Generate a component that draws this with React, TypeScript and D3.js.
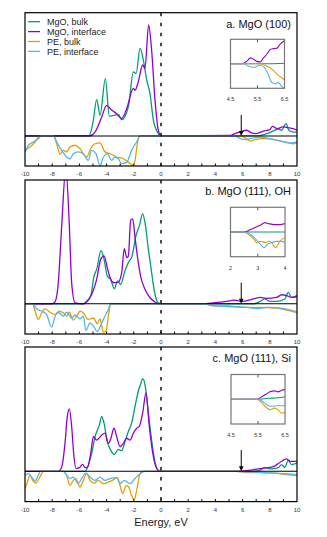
import * as d3 from 'd3'

type Pt = [number, number]

// energy ticks along the main x axis
const TICK_LABELS = [-10, -8, -6, -4, -2, 0, 2, 4, 6, 8, 10]
const MINOR_TICKS = d3.range(-9, 10)

const SERIES_NAMES = ['MgO, bulk', 'MgO, interface', 'PE, bulk', 'PE, interface']
const SERIES_COLORS = ['#009E73', '#9400D3', '#E69F00', '#56B4E9']

const PANEL_LABELS = ['a. MgO (100)', 'b. MgO (111), OH', 'c. MgO (111), Si']
const INSET_DOMAINS: Pt[] = [[4.5, 6.5], [2, 4], [4.5, 6.5]]
const INSET_TICKS = [[4.5, 5.5, 6.5], [2, 3, 4], [4.5, 5.5, 6.5]]
const ARROW_E = [5.9, 5.9, 5.9]

// panel a
const A_MGO_BULK: Pt[] = [[-10, 0], [-5.3, 0], [-5.0, 0.45], [-4.73, 1.21], [-4.48, 0.69], [-4.09, 1.91], [-3.8, 0.66], [-3.38, 0.69], [-3.14, 0.72], [-2.89, 0.54], [-2.4, 0.97], [-2.03, 2.13], [-1.83, 2.08], [-1.54, 2.91], [-1.3, 2.52], [-1.05, 1.86], [-0.81, 1.41], [-0.56, 0.52], [-0.27, 0.13], [-0.05, 0], [7.0, 0], [7.8, 0.08], [8.37, 0.19], [8.6, 0.24], [8.85, 0.19], [9.2, 0.41], [9.4, 0.19], [9.75, 0.13], [10, 0.13]]
const A_MGO_INT: Pt[] = [[-10, 0], [-5.27, 0], [-4.85, 0.13], [-4.36, 0.63], [-4.0, 1.02], [-3.63, 0.86], [-3.26, 0.74], [-2.89, 0.58], [-2.52, 0.91], [-2.03, 1.58], [-1.91, 1.52], [-1.67, 1.8], [-1.35, 2.36], [-1.18, 2.24], [-0.91, 3.69], [-0.69, 2.86], [-0.44, 1.19], [-0.2, 0.19], [0, 0], [5.1, 0.02], [5.44, 0.08], [5.8, 0.13], [6.3, 0.19], [6.66, 0.1], [7.0, 0.08], [7.53, 0.16], [8.0, 0.21], [8.2, 0.32], [8.56, 0.24], [8.95, 0.3], [9.3, 0.28], [9.7, 0.24], [10, 0.19]]
const A_PE_BULK: Pt[] = [[-10, -0.48], [-9.63, -0.37], [-9.26, -0.2], [-8.9, 0], [-7.9, 0], [-7.67, -0.26], [-7.43, -0.61], [-7.18, -0.48], [-6.94, -0.53], [-6.69, -0.37], [-6.32, -0.31], [-5.96, -0.42], [-5.47, -0.7], [-5.17, -0.42], [-4.85, -0.26], [-4.48, -0.23], [-4.12, -0.53], [-3.75, -0.59], [-3.26, -0.7], [-2.77, -0.76], [-2.4, -0.87], [-2.03, -0.98], [-1.91, -0.81], [-1.74, -0.26], [-1.54, 0], [5.8, 0], [6.05, -0.03], [6.6, -0.17], [6.95, -0.12], [7.5, -0.09], [8.0, -0.1], [8.5, -0.14], [9.1, -0.2], [9.7, -0.26], [10, -0.24]]
const A_PE_INT: Pt[] = [[-10, -0.53], [-9.75, -0.31], [-9.39, -0.2], [-9.02, -0.09], [-8.78, 0], [-7.9, 0], [-7.67, -0.2], [-7.3, -0.48], [-6.94, -0.7], [-6.69, -0.76], [-6.45, -0.59], [-6.08, -0.53], [-5.71, -0.59], [-5.35, -0.81], [-5.1, -0.48], [-4.78, -0.59], [-4.48, -0.98], [-4.24, -0.7], [-3.95, -0.59], [-3.63, -0.81], [-3.38, -0.7], [-3.14, -0.76], [-2.89, -0.92], [-2.52, -0.87], [-2.16, -0.48], [-1.79, -0.2], [-1.54, 0], [5.4, 0], [5.8, -0.08], [6.17, -0.12], [6.55, -0.09], [7.3, -0.04], [7.8, -0.07], [8.37, -0.12], [9.0, -0.2], [9.5, -0.23], [10, -0.2]]

// panel b
const B_MGO_BULK: Pt[] = [[-10, 0], [-5.71, 0], [-5.47, 0.09], [-5.17, 0.26], [-4.92, 0.92], [-4.73, 1.14], [-4.41, 1.76], [-4.19, 1.48], [-3.95, 0.92], [-3.7, 0.81], [-3.43, 0.5], [-3.19, 0.76], [-2.97, 0.64], [-2.65, 1.09], [-2.33, 1.42], [-2.16, 1.53], [-1.84, 2.26], [-1.59, 2.59], [-1.35, 2.98], [-1.18, 2.7], [-0.93, 1.81], [-0.69, 1.03], [-0.44, 0.31], [-0.2, 0.03], [0, 0], [6.8, 0], [7.3, 0.08], [7.65, 0.16], [8.0, 0.08], [8.5, 0.08], [9.1, 0.16], [9.36, 0.38], [9.6, 0.21], [10, 0.23]]
const B_MGO_INT: Pt[] = [[-10, 0], [-8.04, 0], [-7.8, 0.06], [-7.55, 0.7], [-7.3, 2.59], [-7.0, 4.5], [-6.74, 2.59], [-6.57, 0.7], [-6.32, 0.03], [-5.71, 0], [-5.47, 0.06], [-5.1, 0.31], [-4.73, 0.81], [-4.43, 1.48], [-4.19, 1.59], [-3.95, 1.2], [-3.7, 0.81], [-3.46, 0.7], [-3.14, 0.72], [-2.89, 1.03], [-2.7, 1.83], [-2.52, 1.53], [-2.4, 1.58], [-2.23, 2.76], [-2.08, 2.81], [-1.91, 2.2], [-1.74, 1.59], [-1.5, 0.92], [-1.18, 0.48], [-0.81, 0.2], [-0.44, 0.06], [-0.2, 0], [3.1, 0], [3.85, 0.03], [4.83, 0.08], [5.4, 0.12], [6.05, 0.08], [6.8, 0.16], [7.3, 0.21], [7.77, 0.18], [8.5, 0.21], [8.87, 0.3], [9.24, 0.27], [9.6, 0.21], [10, 0.27]]
const B_PE_BULK: Pt[] = [[-10, 0], [-9.44, 0], [-9.26, -0.24], [-9.02, -0.52], [-8.77, -0.3], [-8.53, -0.17], [-8.16, -0.28], [-7.79, -0.36], [-7.48, -0.24], [-7.18, -0.3], [-6.94, -0.41], [-6.74, -0.28], [-6.45, -0.54], [-6.2, -0.41], [-5.96, -0.24], [-5.71, -0.3], [-5.35, -0.52], [-4.97, -0.47], [-4.68, -0.66], [-4.48, -0.5], [-4.24, -0.94], [-4.04, -0.91], [-3.87, -0.41], [-3.7, 0], [3.1, 0], [4.1, -0.07], [5.0, -0.07], [6.05, -0.12], [7.3, -0.12], [8.5, -0.14], [9.24, -0.21], [10, -0.29]]
const B_PE_INT: Pt[] = [[-10, 0], [-9.44, 0], [-9.14, -0.17], [-8.77, -0.24], [-8.41, -0.36], [-8.04, -0.77], [-7.79, -0.41], [-7.55, -0.28], [-7.18, -0.41], [-6.94, -0.28], [-6.57, -0.47], [-6.32, -0.37], [-5.96, -0.5], [-5.71, -0.41], [-5.52, -0.88], [-5.22, -0.63], [-4.97, -0.74], [-4.68, -0.92], [-4.36, -0.63], [-4.12, -0.41], [-3.87, -0.19], [-3.7, 0], [3.1, 0], [3.85, -0.07], [4.83, -0.09], [6.3, -0.12], [7.03, -0.16], [7.8, -0.12], [8.8, -0.14], [10, -0.26]]

// panel c
const C_MGO_BULK: Pt[] = [[-10, 0], [-5.59, 0], [-5.34, 0.2], [-5.1, 0.59], [-4.85, 1.14], [-4.53, 1.53], [-4.36, 1.81], [-4.19, 1.59], [-3.95, 0.98], [-3.7, 0.7], [-3.43, 0.56], [-3.14, 0.72], [-2.89, 0.68], [-2.65, 0.98], [-2.4, 1.31], [-2.16, 1.59], [-1.91, 2.14], [-1.67, 2.64], [-1.5, 2.87], [-1.35, 3.06], [-1.18, 2.87], [-0.93, 1.92], [-0.69, 1.03], [-0.44, 0.31], [-0.2, 0.03], [0, 0], [6.8, 0], [7.3, 0.04], [7.65, 0.13], [8.0, 0.08], [8.6, 0.11], [8.87, 0.22], [9.1, 0.13], [9.36, 0.36], [9.6, 0.22], [10, 0.27]]
const C_MGO_INT: Pt[] = [[-10, 0], [-7.55, 0], [-7.3, 0.14], [-7.06, 0.92], [-6.89, 1.81], [-6.74, 2.06], [-6.57, 1.48], [-6.4, 0.48], [-6.25, 0.09], [-6.0, 0.12], [-5.76, 0.23], [-5.59, 0.12], [-5.4, 0.14], [-5.17, 0.59], [-4.97, 1.14], [-4.73, 1.03], [-4.36, 1.2], [-4.12, 1.26], [-3.87, 0.92], [-3.68, 1.09], [-3.46, 1.42], [-3.26, 1.14], [-3.01, 0.81], [-2.77, 0.92], [-2.52, 1.09], [-2.28, 1.03], [-2.03, 1.26], [-1.79, 1.42], [-1.6, 1.48], [-1.35, 1.92], [-1.1, 2.59], [-0.86, 1.48], [-0.56, 0.48], [-0.32, 0.09], [-0.1, 0], [5.5, 0], [6.3, 0.02], [7.03, 0.07], [7.77, 0.11], [8.3, 0.16], [8.87, 0.33], [9.2, 0.41], [9.5, 0.33], [10, 0.33]]
const C_PE_BULK: Pt[] = [[-10, -0.58], [-9.83, -0.36], [-9.63, -0.13], [-9.44, -0.3], [-9.19, -0.39], [-9.02, -0.28], [-8.77, -0.08], [-8.65, 0], [-7.18, 0], [-6.94, -0.13], [-6.69, -0.47], [-6.45, -0.3], [-6.25, -0.24], [-5.96, -0.52], [-5.71, -0.3], [-5.47, -0.08], [-5.22, -0.3], [-4.92, -0.39], [-4.61, -0.3], [-4.24, -0.41], [-3.87, -0.36], [-3.5, -0.28], [-3.21, -0.21], [-3.01, -0.47], [-2.82, -0.74], [-2.57, -0.47], [-2.4, -0.5], [-2.16, -0.8], [-1.96, -0.94], [-1.79, -0.63], [-1.54, -0.08], [-1.3, 0], [5.5, 0], [6.3, -0.04], [7.3, -0.04], [8.5, -0.07], [9.24, -0.11], [10, -0.14]]
const C_PE_INT: Pt[] = [[-10, -0.13], [-9.75, -0.08], [-9.51, -0.19], [-9.26, -0.32], [-9.02, -0.13], [-8.85, 0], [-7.18, 0], [-6.94, -0.13], [-6.69, -0.24], [-6.45, -0.19], [-6.08, -0.41], [-5.84, -0.24], [-5.52, -0.06], [-5.22, -0.19], [-4.85, -0.3], [-4.48, -0.19], [-4.12, -0.3], [-3.75, -0.24], [-3.26, -0.21], [-3.01, -0.41], [-2.7, -0.3], [-2.28, -0.41], [-1.91, -0.24], [-1.54, -0.08], [-1.2, 0], [5.5, 0], [6.3, -0.02], [7.5, -0.04], [8.7, -0.07], [9.4, -0.09], [10, -0.11]]

// insets (zoom near the conduction band edge)
const IA_MGO_BULK: Pt[] = [[4.5, 0], [5.9, 0], [6.5, 0.01]]
const IA_MGO_INT: Pt[] = [[4.5, 0], [4.93, 0], [5.1, 0.05], [5.24, 0.12], [5.36, 0.09], [5.48, 0.05], [5.6, 0.04], [5.72, 0.12], [5.85, 0.2], [5.97, 0.29], [6.1, 0.31], [6.22, 0.32], [6.34, 0.4], [6.5, 0.47]]
const IA_PE_BULK: Pt[] = [[4.5, 0], [5.6, 0], [5.85, -0.05], [6.03, -0.11], [6.22, -0.21], [6.38, -0.28], [6.5, -0.33]]
const IA_PE_INT: Pt[] = [[4.5, 0], [4.99, 0], [5.17, -0.05], [5.36, -0.07], [5.48, -0.05], [5.6, -0.03], [5.76, -0.08], [5.89, -0.21], [6.03, -0.38], [6.16, -0.41], [6.26, -0.38], [6.38, -0.45], [6.5, -0.51]]

const IB_MGO_BULK: Pt[] = [[2, 0], [4, 0]]
const IB_MGO_INT: Pt[] = [[2, 0], [2.49, 0], [2.74, 0.05], [2.98, 0.11], [3.1, 0.14], [3.26, 0.19], [3.4, 0.17], [3.6, 0.15], [3.8, 0.15], [4, 0.17]]
const IB_PE_BULK: Pt[] = [[2, 0], [2.49, 0], [2.67, -0.05], [2.86, -0.15], [2.98, -0.22], [3.1, -0.19], [3.29, -0.21], [3.4, -0.19], [3.52, -0.22], [3.66, -0.32], [3.78, -0.22], [3.9, -0.14], [4, -0.12]]
const IB_PE_INT: Pt[] = [[2, 0], [2.49, 0], [2.74, -0.05], [2.92, -0.14], [3.1, -0.25], [3.23, -0.32], [3.35, -0.25], [3.53, -0.21], [3.72, -0.19], [3.9, -0.19], [4, -0.22]]

const IC_MGO_BULK: Pt[] = [[4.5, 0], [5.45, 0], [5.9, 0.02], [6.27, 0.03], [6.5, 0.05]]
const IC_MGO_INT: Pt[] = [[4.5, 0], [5.45, 0], [5.64, 0.05], [5.82, 0.11], [5.94, 0.15], [6.1, 0.17], [6.24, 0.15], [6.38, 0.18], [6.5, 0.2]]
const IC_PE_BULK: Pt[] = [[4.5, 0], [5.45, 0], [5.64, -0.07], [5.82, -0.17], [5.94, -0.21], [6.1, -0.18], [6.24, -0.21], [6.38, -0.28], [6.5, -0.27]]
const IC_PE_INT: Pt[] = [[4.5, 0], [5.45, 0], [5.64, -0.03], [5.82, -0.11], [6.0, -0.14], [6.24, -0.13], [6.5, -0.13]]

const MAIN_SERIES = [
  [A_MGO_BULK, A_MGO_INT, A_PE_BULK, A_PE_INT],
  [B_MGO_BULK, B_MGO_INT, B_PE_BULK, B_PE_INT],
  [C_MGO_BULK, C_MGO_INT, C_PE_BULK, C_PE_INT],
]
const INSET_SERIES = [
  [IA_MGO_BULK, IA_MGO_INT, IA_PE_BULK, IA_PE_INT],
  [IB_MGO_BULK, IB_MGO_INT, IB_PE_BULK, IB_PE_INT],
  [IC_MGO_BULK, IC_MGO_INT, IC_PE_BULK, IC_PE_INT],
]

const W = 327
const H = 537
const FONT = '"Liberation Sans", Arial, Helvetica, sans-serif'
const PLOT_LEFT = 25
const PLOT_RIGHT = 297
const PANEL_BOXES = [
  { top: 12.7, bottom: 166, labelY: 176 },
  { top: 180, bottom: 334, labelY: 344 },
  { top: 347, bottom: 501.6, labelY: 512 },
]
const INSET_BOXES = [
  { left: 230.5, right: 284.5, top: 39.3, bottom: 88.3 },
  { left: 230.5, right: 285, top: 207.3, bottom: 256.7 },
  { left: 231, right: 285, top: 374.5, bottom: 424 },
]
const Y_DOMAIN: Pt = [-1, 4.1]
const INSET_Y: Pt = [-0.5, 0.5]
const ARROW_TAIL = 0.7

const x = d3.scaleLinear().domain([-10, 10]).range([PLOT_LEFT, PLOT_RIGHT])

function Panel({ idx }: { idx: number }) {
  const box = PANEL_BOXES[idx]
  const ib = INSET_BOXES[idx]
  const y = d3.scaleLinear().domain(Y_DOMAIN).range([box.bottom, box.top])
  const line = d3.line<Pt>().x(d => x(d[0])).y(d => y(d[1])).curve(d3.curveMonotoneX)

  const ix = d3.scaleLinear().domain(INSET_DOMAINS[idx]).range([ib.left, ib.right])
  const iy = d3.scaleLinear().domain(INSET_Y).range([ib.bottom, ib.top])
  const iline = d3.line<Pt>().x(d => ix(d[0])).y(d => iy(d[1])).curve(d3.curveMonotoneX)
  const midTick = INSET_TICKS[idx][1]

  const ax = x(ARROW_E[idx])
  const ay0 = y(0)
  const ay1 = y(ARROW_TAIL)

  return (
    <g>
      <defs>
        <clipPath id={`clip-${idx}`}>
          <rect x={PLOT_LEFT} y={box.top} width={PLOT_RIGHT - PLOT_LEFT} height={box.bottom - box.top} />
        </clipPath>
        <clipPath id={`iclip-${idx}`}>
          <rect x={ib.left} y={ib.top} width={ib.right - ib.left} height={ib.bottom - ib.top} />
        </clipPath>
      </defs>

      <g clipPath={`url(#clip-${idx})`}>
        {MAIN_SERIES[idx].map((s, i) => (
          <path key={i} d={line(s) || ''} fill="none" stroke={SERIES_COLORS[i]} strokeWidth={1.3} />
        ))}
      </g>

      {/* zero line and Fermi level */}
      <line x1={PLOT_LEFT} x2={PLOT_RIGHT} y1={y(0)} y2={y(0)} stroke="#000" strokeWidth={1.1} />
      <line x1={x(0)} x2={x(0)} y1={box.top} y2={box.bottom} stroke="#000" strokeWidth={1.4} strokeDasharray="3.5,6.5" />

      {/* frame + ticks */}
      <rect x={PLOT_LEFT} y={box.top} width={PLOT_RIGHT - PLOT_LEFT} height={box.bottom - box.top}
        fill="none" stroke="#000" strokeWidth={1.2} />
      {MINOR_TICKS.map(t => (
        <line key={t} x1={x(t)} x2={x(t)} y1={box.bottom} y2={box.bottom - 2.5} stroke="#000" strokeWidth={1} />
      ))}
      {TICK_LABELS.map(t => (
        <text key={t} x={x(t)} y={box.labelY} fontSize={6} fill="#333" textAnchor="middle" fontFamily={FONT}>{t}</text>
      ))}

      <text x={291} y={box.top + 15} fontSize={11} textAnchor="end" fontFamily={FONT} fill="#111">{PANEL_LABELS[idx]}</text>

      {/* arrow at CBM */}
      <line x1={ax} x2={ax} y1={ay1} y2={ay0 - 4} stroke="#000" strokeWidth={1} />
      <path d={`M${ax - 2.3},${ay0 - 5}L${ax + 2.3},${ay0 - 5}L${ax},${ay0}Z`} fill="#000" />

      {/* inset */}
      <rect x={ib.left} y={ib.top} width={ib.right - ib.left} height={ib.bottom - ib.top} fill="#fff" />
      <g clipPath={`url(#iclip-${idx})`}>
        {INSET_SERIES[idx].map((s, i) => (
          <path key={i} d={iline(s) || ''} fill="none" stroke={SERIES_COLORS[i]} strokeWidth={1.1} />
        ))}
      </g>
      <rect x={ib.left} y={ib.top} width={ib.right - ib.left} height={ib.bottom - ib.top}
        fill="none" stroke="#777" strokeWidth={1.2} />
      <line x1={ix(midTick)} x2={ix(midTick)} y1={ib.top} y2={ib.top + 3} stroke="#555" strokeWidth={1} />
      <line x1={ix(midTick)} x2={ix(midTick)} y1={ib.bottom} y2={ib.bottom - 3} stroke="#555" strokeWidth={1} />
      {INSET_TICKS[idx].map(t => (
        <text key={t} x={ix(t)} y={ib.bottom + 13} fontSize={5.5} fill="#333" textAnchor="middle" fontFamily={FONT}>{t}</text>
      ))}
    </g>
  )
}

function Legend() {
  return (
    <g fontFamily={FONT} fontSize={9}>
      {SERIES_NAMES.map((name, i) => {
        const yy = 21.7 + i * 9.9
        return (
          <g key={name}>
            <line x1={28} x2={40} y1={yy} y2={yy} stroke={SERIES_COLORS[i]} strokeWidth={1.3} />
            <text x={47} y={yy + 3.2} fill="#222">{name}</text>
          </g>
        )
      })}
    </g>
  )
}

export default function App() {
  return (
    <svg width={W} height={H} style={{ position: 'absolute', left: 0, top: 0, background: '#fff' }}>
      <rect width={W} height={H} fill="#fff" />
      {PANEL_BOXES.map((_, i) => <Panel key={i} idx={i} />)}
      <Legend />
      <text x={161} y={526} fontSize={11} textAnchor="middle" fontFamily={FONT} fill="#222">Energy, eV</text>
    </svg>
  )
}
